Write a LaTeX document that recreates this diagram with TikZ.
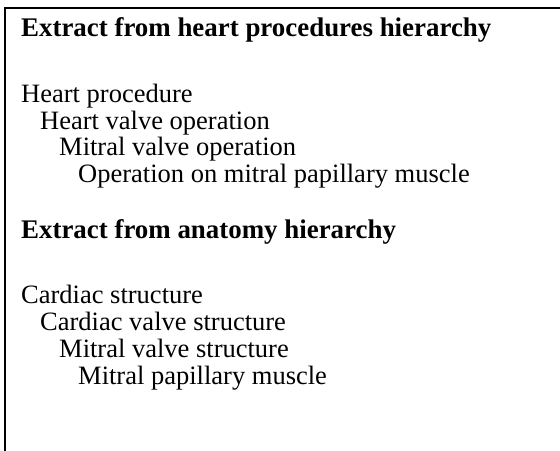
\documentclass[tikz,border=0pt]{standalone}
\usepackage{fontspec}
\setmainfont{Liberation Serif}
\begin{document}
\begin{tikzpicture}[x=1bp,y=-1bp,
  txt/.style={anchor=base west,inner sep=0pt,font=\fontsize{26.6}{30}\selectfont},
  head/.style={txt,font=\fontsize{27}{30}\selectfont\bfseries}]
\useasboundingbox (0,0) rectangle (560,451);
\coordinate (tl) at (5,8);
\coordinate (tr) at (560,8);
\coordinate (bl) at (5,451);
\draw[line width=2bp] (bl) -- (tl) -- (tr);
\node[head] (h1) at (21,37) {Extract from heart procedures hierarchy};
\node[txt] (a1) at (21,103) {Heart procedure};
\node[txt] (a2) at (40,129.5) {Heart valve operation};
\node[txt] (a3) at (59,156) {Mitral valve operation};
\node[txt] (a4) at (78,182.5) {Operation on mitral papillary muscle};
\node[head] (h2) at (21,239) {Extract from anatomy hierarchy};
\node[txt] (b1) at (21,303) {Cardiac structure};
\node[txt] (b2) at (40,330) {Cardiac valve structure};
\node[txt] (b3) at (59,357) {Mitral valve structure};
\node[txt] (b4) at (78,384) {Mitral papillary muscle};
\end{tikzpicture}
\end{document}
